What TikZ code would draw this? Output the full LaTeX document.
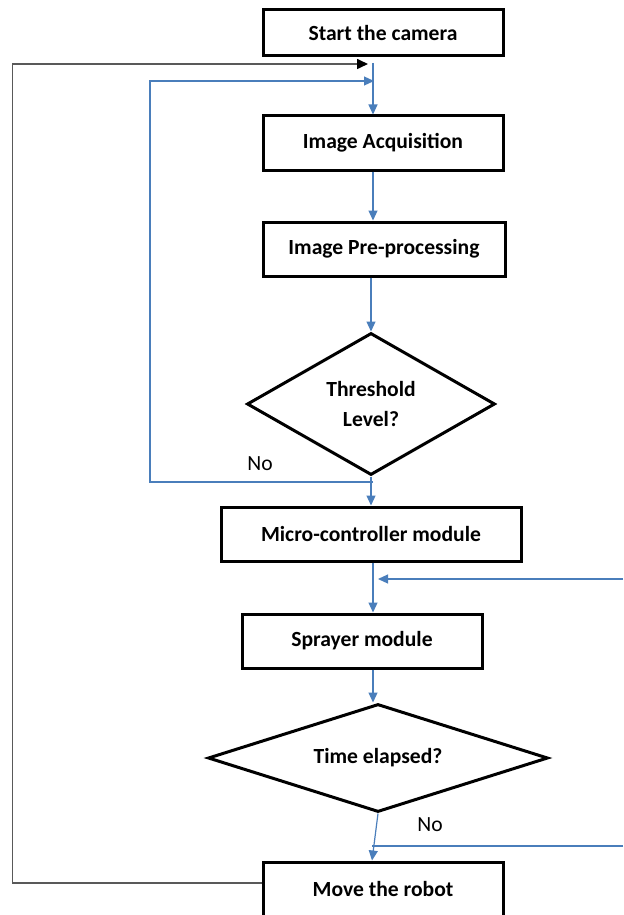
\documentclass[tikz,border=0pt]{standalone}
\usepackage{fontspec}
\setmainfont{Carlito}
\usetikzlibrary{shapes.geometric,arrows.meta}
\definecolor{lineblue}{HTML}{4A7EBB}
\begin{document}
\begin{tikzpicture}[x=0.5pt, y=-0.5pt, font=\fontsize{10.8}{13}\selectfont,
  box/.style={draw, line width=1.5pt, minimum width=120pt,
    minimum height=27pt, font=\fontsize{10.8}{13}\selectfont\bfseries,
    inner sep=2pt},
  decision/.style={draw, diamond, line width=1.5pt, inner sep=0pt,
    align=center, font=\fontsize{10.8}{13}\selectfont\bfseries},
  flow/.style={lineblue, line width=0.6pt,
    -{Triangle[length=5pt,width=4.5pt]}},
  loopback/.style={black!65, line width=0.8pt,
    -{Triangle[length=5.5pt,width=5pt,color=black]}}]
  \useasboundingbox (0,0) rectangle (623,915);

  % Bloques
  \node[box, minimum height=23pt] (start) at (383,33) {Start the camera};
  \node[box] (acq) at (383,143) {Image Acquisition};
  \node[box, minimum width=121pt] (pre) at (384,249) {Image Pre-processing};
  \node[decision, minimum width=124pt, minimum height=71pt, aspect=1.75]
    (thr) at (371,404) {Threshold\\[2pt]Level?};
  \node[box, minimum width=150pt] (mcu) at (371,534) {Micro-controller module};
  \node[box] (spray) at (362,641) {Sprayer module};
  \node[decision, minimum width=170pt, minimum height=54pt, aspect=3.15]
    (time) at (378,758) {Time elapsed?};
  \node[box] (move) at (383,889) {Move the robot};

  % Etiquetas
  \node (no1) at (260,464) {No};
  \node (no2) at (430,825) {No};

  % Puntos de union
  \coordinate (top) at (373,63);
  \coordinate (ret) at (373,482);
  \coordinate (blin) at (374,81);
  \coordinate (blkin) at (368,64);
  \coordinate (inR) at (623,579);
  \coordinate (inR2) at (623,846);

  % Flujo principal
  \draw[flow] (top) -- (top |- acq.north);
  \draw[flow] (top |- acq.south) -- (top |- pre.north);
  \draw[flow] (thr.north |- pre.south) -- (thr.north);
  \draw[flow] (thr.south) -- (thr.south |- mcu.north);
  \draw[flow] (top |- mcu.south) -- (top |- spray.north);
  \draw[flow] (top |- spray.south) -- (time.north -| top);
  \draw[flow] (time.south) -- ([xshift=-5.5pt]move.north);

  % Lazos de retorno
  \draw[flow] (ret) -- ++(-223,0) |- (blin);
  \draw[loopback] ([yshift=3pt]move.west) -- ++(-249,0) |- (blkin);

  % Entradas desde la derecha
  \draw[flow] (inR) -- ++(-245,0);
  \draw[lineblue, line width=0.6pt] (inR2) -- ++(-251,0);
\end{tikzpicture}
\end{document}
